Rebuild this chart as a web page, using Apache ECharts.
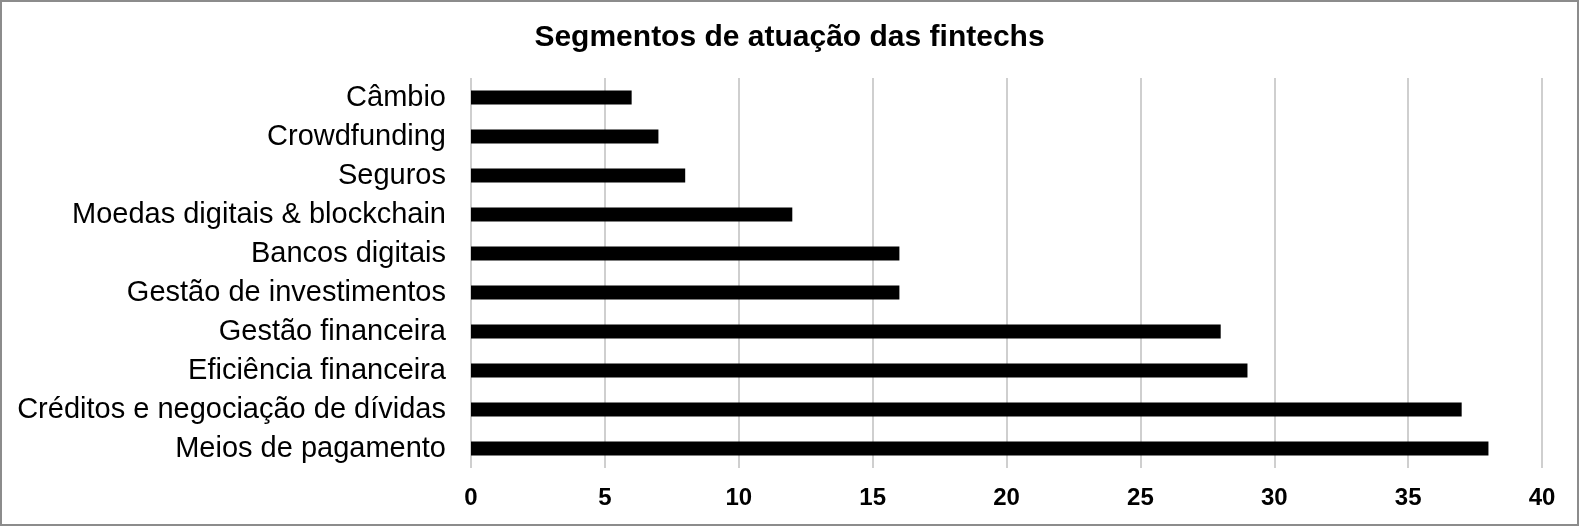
<!DOCTYPE html>
<html>
<head>
<meta charset="utf-8">
<script src="https://cdn.jsdelivr.net/npm/echarts@6/dist/echarts.min.js"></script>
<style>
  html, body { margin: 0; padding: 0; background: #fff; }
  #chart {
    width: 1579px;
    height: 526px;
    box-sizing: border-box;
    border: 2px solid #8c8c8c;
  }
</style>
</head>
<body>
<div id="chart"></div>
<script>
// dados (de cima para baixo)
const categories = [
  'Câmbio',
  'Crowdfunding',
  'Seguros',
  'Moedas digitais & blockchain',
  'Bancos digitais',
  'Gestão de investimentos',
  'Gestão financeira',
  'Eficiência financeira',
  'Créditos e negociação de dívidas',
  'Meios de pagamento'
]
const values = [6, 7, 8, 12, 16, 16, 28, 29, 37, 38]
const xTicks = { min: 0, max: 40, interval: 5 }

const chart = echarts.init(document.getElementById('chart'))

const option = {
  animation: false,
  title: {
    text: 'Segmentos de atuação das fintechs',
    left: 'center',
    top: 16,
    textStyle: {
      fontFamily: 'Liberation Sans, Arial, sans-serif',
      fontSize: 30,
      fontWeight: 'bold',
      color: '#000'
    }
  },
  grid: { left: 469, right: 35, top: 76, bottom: 56 },
  xAxis: {
    type: 'value',
    min: xTicks.min,
    max: xTicks.max,
    interval: xTicks.interval,
    axisLine: { show: false },
    axisTick: { show: false },
    axisLabel: {
      color: '#000',
      fontFamily: 'Liberation Sans, Arial, sans-serif',
      fontSize: 24,
      fontWeight: 'bold',
      margin: 18
    },
    splitLine: { show: true, lineStyle: { color: '#bfbfbf', width: 1.5 } }
  },
  yAxis: {
    type: 'category',
    inverse: true,
    data: categories,
    axisLine: { show: false },
    axisTick: { show: false },
    axisLabel: {
      color: '#000',
      fontFamily: 'Liberation Sans, Arial, sans-serif',
      fontSize: 29,
      margin: 25
    }
  },
  series: [
    {
      type: 'bar',
      data: values,
      barWidth: 14,
      itemStyle: { color: '#000' }
    }
  ]
}
chart.setOption(option)
</script>
</body>
</html>
